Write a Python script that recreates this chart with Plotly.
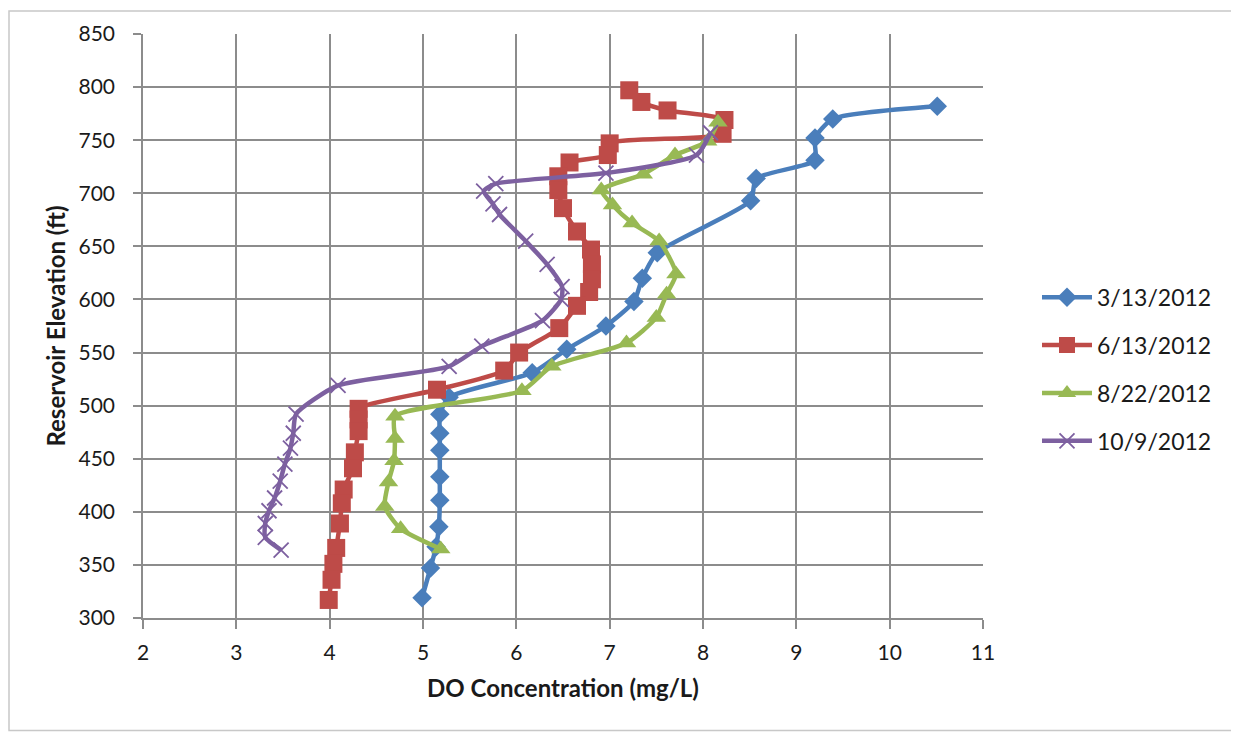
import plotly.graph_objects as go

# ---- data (DO mg/L, elevation ft) ----
mar_do = [10.51, 9.39, 9.20, 9.20, 8.57, 8.51, 7.51, 7.35, 7.26, 6.96, 6.54, 6.17, 5.28,
          5.18, 5.18, 5.18, 5.18, 5.18, 5.17, 5.14, 5.08, 4.99]
mar_el = [782, 770, 752, 731, 714, 693, 644, 620, 598, 575, 553, 531, 508,
          492, 474, 458, 433, 411, 386, 367, 347, 319]

jun_do = [7.21, 7.34, 7.62, 8.23, 8.21, 7.00, 6.98, 6.57, 6.45, 6.45, 6.50, 6.65, 6.80,
          6.81, 6.81, 6.78, 6.65, 6.46, 6.03, 5.87, 5.15, 4.31, 4.31, 4.31, 4.27,
          4.25, 4.15, 4.13, 4.11, 4.07, 4.04, 4.02, 3.99]
jun_el = [797, 786, 778, 769, 756, 747, 736, 729, 716, 703, 686, 664, 647,
          633, 619, 607, 594, 573, 550, 533, 515, 497, 487, 476, 456,
          441, 421, 408, 389, 366, 351, 336, 317]

aug_do = [8.16, 8.05, 7.70, 7.36, 6.91, 7.03, 7.24, 7.53, 7.71, 7.61, 7.50, 7.18,
          6.38, 6.06, 4.70, 4.70, 4.69, 4.63, 4.59, 4.76, 5.19]
aug_el = [767, 749, 736, 718, 703, 689, 672, 655, 624, 605, 583, 559,
          537, 514, 490, 469, 448, 428, 405, 384, 365]

oct_do = [8.08, 7.93, 6.96, 5.78, 5.65, 5.75, 5.82, 6.10, 6.33, 6.49, 6.48, 6.28,
          5.63, 5.28, 4.09, 3.64, 3.61, 3.58, 3.52, 3.47, 3.41, 3.35, 3.31, 3.31, 3.48]
oct_el = [757, 736, 719, 709, 702, 690, 680, 655, 633, 612, 600, 580,
          556, 537, 519, 492, 474, 460, 445, 429, 413, 401, 389, 376, 364]

series_names = ["3/13/2012", "6/13/2012", "8/22/2012", "10/9/2012"]
x_ticks = list(range(2, 12))
y_ticks = list(range(300, 851, 50))

FONT = "Lato, 'Open Sans', sans-serif"
GRID = "#8c8c8c"
TXT = "#1a1a1a"

# figure is placed with an 8px page margin; plot area 840 x 586
W, H = 1231, 724
L, T = 135, 24
PW, PH = 840, 586
R, B = W - L - PW, H - T - PH

fig = go.Figure()

styles = [
    dict(color="#4A7EBB", symbol="diamond", size=15, lw=0),
    dict(color="#BE4B48", symbol="square", size=18, lw=0),
    dict(color="#98B954", symbol="triangle-up", size=17, lw=0),
    dict(color="#7D60A0", symbol="x-thin", size=15, lw=1.8),
]
data = [(mar_do, mar_el), (jun_do, jun_el), (aug_do, aug_el), (oct_do, oct_el)]

for name, (xs, ys), st in zip(series_names, data, styles):
    marker = dict(symbol=st["symbol"], size=st["size"], color=st["color"])
    if st["lw"]:
        marker["line"] = dict(color=st["color"], width=st["lw"])
    else:
        marker["line"] = dict(width=0)
    fig.add_trace(go.Scatter(
        x=xs, y=ys, name=name, legendgroup=name,
        mode="lines+markers",
        line=dict(color=st["color"], width=4.5, shape="spline", smoothing=0.6),
        marker=marker,
    ))

def px_x(p):
    return (p - L) / PW

def px_y(p):
    return 1 - (p - T) / PH

fig.update_layout(
    width=W, height=H,
    margin=dict(l=L, r=R, t=T, b=B),
    paper_bgcolor="white", plot_bgcolor="white",
    font=dict(family=FONT, size=21, color=TXT),
    showlegend=True,
    legend=dict(
        x=px_x(1029), y=0.426, xanchor="left", yanchor="middle",
        font=dict(family=FONT, size=23, color=TXT),
        tracegroupgap=15, itemwidth=50,
        bgcolor="rgba(0,0,0,0)",
    ),
    shapes=[dict(type="rect", xref="paper", yref="paper",
                 x0=px_x(1), x1=px_x(W - 2), y0=px_y(H - 1), y1=px_y(1),
                 line=dict(color="#c8c8c8", width=1.5))],
)

fig.update_xaxes(
    range=[2, 11], tickvals=x_ticks, ticktext=[str(v) for v in x_ticks],
    showgrid=True, gridcolor=GRID, gridwidth=1.5,
    showline=True, linecolor=GRID, linewidth=1.5,
    ticks="outside", ticklen=9, tickcolor=GRID, tickwidth=1.5,
    ticklabelstandoff=6,
    tickfont=dict(family=FONT, size=21, color=TXT),
    zeroline=False,
    title=dict(text="<b>DO Concentration (mg/L)</b>", font=dict(family=FONT, size=24, color=TXT), standoff=17),
)
fig.update_yaxes(
    range=[300, 850], tickvals=y_ticks, ticktext=[str(v) for v in y_ticks],
    showgrid=True, gridcolor=GRID, gridwidth=1.5,
    showline=True, linecolor=GRID, linewidth=1.5,
    ticks="outside", ticklen=8, tickcolor=GRID, tickwidth=1.5,
    ticklabelstandoff=14,
    tickfont=dict(family=FONT, size=21, color=TXT),
    zeroline=False,
    title=dict(text="<b>Reservoir Elevation (ft)</b>", font=dict(family=FONT, size=24, color=TXT), standoff=6),
)

fig.write_html("out.html")
